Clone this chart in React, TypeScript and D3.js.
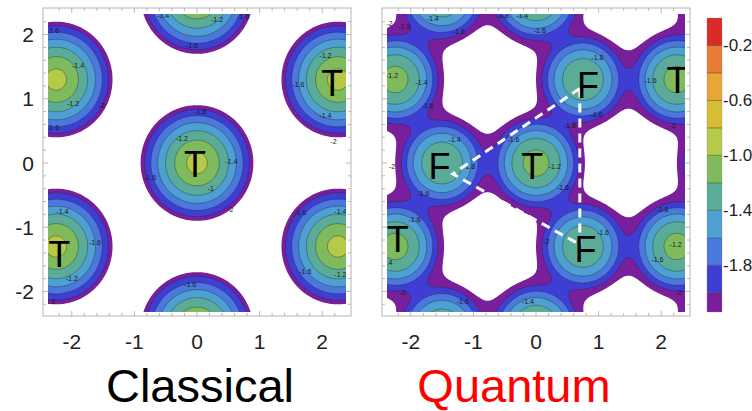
import React, { useMemo } from "react";
import * as d3 from "d3";

const WIDTH = 752;
const HEIGHT = 411;

// band edges of the filled contours and their colours (low -> high)
const levels = [-2.14, -2.0, -1.8, -1.6, -1.4, -1.2, -1.0, -0.8, -0.6, -0.4, -0.2, 0];
const bandColors = [
  "#7a1f9b", "#3e3ed4", "#4a78dd", "#4ea0d2", "#5aac98", "#7fba5c",
  "#b6c948", "#d5bd35", "#e9a636", "#e87b35", "#da2b27",
];
const colorbarTicks = [-0.2, -0.6, -1.0, -1.4, -1.8];
const axisTicks = [-2, -1, 0, 1, 2];
const minorTicks = d3.range(-22, 23, 2).map((v) => v / 10);

// lattice sites (data units)
const classicalSites: [number, number][] = [
  [0, 0], [0, 2.6], [0, -2.6], [2.25, 1.3], [2.25, -1.3], [-2.25, 1.3], [-2.25, -1.3],
];
const quantumTSites: [number, number][] = [
  [0, 0], [0, 2.6], [0, -2.6], [2.25, 1.3], [2.25, -1.3], [-2.25, 1.3], [-2.25, -1.3],
  [2.25, 3.9], [-2.25, 3.9], [2.25, -3.9], [-2.25, -3.9], [4.5, 0], [-4.5, 0],
];
const quantumFSites: [number, number][] = [
  [-1.5, 0], [0.75, 1.3], [0.75, -1.3], [-1.5, 2.6], [-1.5, -2.6], [3, 0],
  [0.75, 3.9], [0.75, -3.9], [3, 2.6], [3, -2.6], [-3.75, 1.3], [-3.75, -1.3],
];

// radial profiles read from the ring spacing
const classicalProfile = [-0.88, -0.573, -0.917]; // f = a0 + a1 r + a2 r^2
// quantum: [inner depth, inner curvature, outer depth, outer curvature]
const quantumTProfile = [-1.12, 1.89, -1.665, 0.79];
const quantumFProfile = [-1.2, 1.89, -1.705, 0.79];
const quantumBlend = 0.22;

// letters and labels
const classicalLetters = [
  { x: -0.03, y: -0.02, t: "T" },
  { x: 2.16, y: 1.24, t: "T" },
  { x: -2.2, y: -1.42, t: "T" },
];
const quantumLetters = [
  { x: -0.06, y: -0.06, t: "T" },
  { x: -1.54, y: -0.06, t: "F" },
  { x: 0.83, y: 1.2, t: "F" },
  { x: 0.79, y: -1.34, t: "F" },
  { x: 2.26, y: 1.28, t: "T" },
  { x: -2.21, y: -1.19, t: "T" },
];
const dashedChevron: [number, number][] = [[0.7, 1.16], [-1.33, -0.17], [0.7, -1.27]];
const dashedVertical: [number, number][] = [[0.7, 1.16], [0.7, -1.27]];

const classicalContourLabels: [number, number, string][] = [
  [-0.54, 2.3, "-1.4"], [0.32, 2.24, "-1.2"], [0.74, 2.28, "-1.6"], [-0.08, 1.83, "-1.6"],
  [-2.3, 2.06, "-1.6"], [-1.9, 1.52, "-1.4"], [-1.98, 0.92, "-1.2"], [-1.52, 0.9, "-2"],
  [-2.3, 0.56, "-1.6"], [2.05, 1.67, "-1.2"], [1.62, 1.23, "-1.6"], [2.05, 0.74, "-1.4"],
  [2.18, 0.34, "-2"], [0.05, 0.8, "-1.8"], [-0.24, 0.38, "-1.2"], [0.55, 0.02, "-1.4"],
  [-0.75, -0.22, "-1.6"], [0.22, -0.4, "-1"], [0.53, -0.72, "-2"], [-2.15, -0.75, "-1.4"],
  [-1.63, -1.24, "-1.6"], [-2.0, -1.8, "-1.2"], [-2.36, -2.16, "-1.6"], [1.65, -0.77, "-1.6"],
  [2.29, -0.75, "-1.4"], [1.73, -1.69, "-1.6"], [2.29, -1.73, "-1.2"], [-0.11, -1.89, "-1.6"],
];
const quantumContourLabels: [number, number, string][] = [
  [-1.65, 2.25, "-1.4"], [-0.53, 2.3, "-1.8"], [-0.22, 2.3, "-1.4"], [-1.23, 2.05, "-1.6"],
  [0.06, 2.06, "-1.6"], [-2.34, 2.17, "-2"], [-2.1, 2.12, "-1.8"], [-2.3, 1.36, "-1.2"],
  [-1.83, 1.26, "-1.4"], [-1.73, 0.9, "-1.6"], [0.98, 1.64, "-1.8"], [1.83, 1.28, "-1.6"],
  [0.97, 0.76, "-1.6"], [2.18, 0.58, "-2"], [0.54, 0.58, "-1.8"], [-0.36, 0.36, "-1.6"],
  [0.3, -0.05, "-1.2"], [0.43, -0.38, "-1.6"], [-1.3, 0.36, "-1.4"], [-1.07, -0.06, "-1.8"],
  [-1.8, -0.48, "-1.6"], [-2.3, -0.06, "-2"], [-1.94, -0.88, "-1.6"], [-2.39, -1.55, "-1.4"],
  [0.17, -1.22, "-2"], [1.07, -1.08, "-1.6"], [2.02, -0.72, "-1.8"], [2.23, -1.27, "-1.2"],
  [1.94, -1.5, "-1.6"], [-2.13, -2.02, "-2"], [-1.17, -2.16, "-1.6"], [-0.13, -2.16, "-1.4"],
  [2.28, -2.02, "-2"],
];

// sampling grid
const GX0 = -2.6;
const GY0 = 2.56;
const STEP = 0.02;
const NX = 261;
const NY = 257;

function sampleGrid(fn: (x: number, y: number) => number): number[] {
  const v: number[] = new Array(NX * NY);
  for (let j = 0; j < NY; j++) {
    const y = GY0 - j * STEP;
    for (let i = 0; i < NX; i++) {
      const x = GX0 + i * STEP;
      v[j * NX + i] = fn(x, y);
    }
  }
  return v;
}

function classicalField(x: number, y: number) {
  let best = -10;
  for (const [sx, sy] of classicalSites) {
    const r = Math.hypot(x - sx, y - sy);
    const f = classicalProfile[0] + classicalProfile[1] * r + classicalProfile[2] * r * r;
    if (f > best) best = f;
  }
  return best;
}

function siteValue(p: number[], r2: number) {
  return Math.max(p[0] - p[1] * r2, p[2] - p[3] * r2);
}

function quantumField(x: number, y: number) {
  const vals: number[] = [];
  for (const [sx, sy] of quantumTSites) {
    const r2 = (x - sx) ** 2 + (y - sy) ** 2;
    vals.push(siteValue(quantumTProfile, r2));
  }
  for (const [sx, sy] of quantumFSites) {
    const r2 = (x - sx) ** 2 + (y - sy) ** 2;
    vals.push(siteValue(quantumFProfile, r2));
  }
  const m = Math.max(...vals);
  let s = 0;
  for (const v of vals) s += Math.exp((v - m) / quantumBlend);
  return m + quantumBlend * Math.log(s);
}

type Box = { x0: number; x1: number; y0: number; y1: number };

function Panel(props: {
  id: string;
  frame: Box;
  plot: Box;
  field: (x: number, y: number) => number;
  letters: { x: number; y: number; t: string }[];
  labels: [number, number, string][];
  showY: boolean;
  dashed?: boolean;
}) {
  const { id, frame, plot, field, letters, labels, showY, dashed } = props;
  const sx = d3.scaleLinear().domain([-2.38, 2.38]).range([plot.x0, plot.x1]);
  const sy = d3.scaleLinear().domain([-2.32, 2.32]).range([plot.y1, plot.y0]);

  const paths = useMemo(() => {
    const values = sampleGrid(field);
    const cs = d3.contours().size([NX, NY]).thresholds(levels.slice(0, -1))(values);
    return cs.map((c) => {
      let s = "";
      for (const poly of c.coordinates) {
        for (const ring of poly) {
          ring.forEach((p, i) => {
            const dx = GX0 + (p[0] - 0.5) * STEP;
            const dy = GY0 - (p[1] - 0.5) * STEP;
            s += (i ? "L" : "M") + sx(dx).toFixed(2) + "," + sy(dy).toFixed(2);
          });
          s += "Z";
        }
      }
      return { value: c.value, d: s };
    });
  }, [id]);

  const line = d3.line<[number, number]>().x((d) => sx(d[0])).y((d) => sy(d[1]));

  return (
    <g>
      <defs>
        <clipPath id={id}>
          <rect x={plot.x0} y={plot.y0} width={plot.x1 - plot.x0} height={plot.y1 - plot.y0} />
        </clipPath>
      </defs>
      <g clipPath={`url(#${id})`}>
        {paths.map((p, i) => (
          <path key={"f" + i} d={p.d} fill={bandColors[i]} fillRule="evenodd" stroke="none" />
        ))}
        {paths.map((p, i) =>
          i === 0 ? null : (
            <path key={"l" + i} d={p.d} fill="none" stroke="#1e2a26" strokeOpacity={0.55} strokeWidth={0.7} />
          )
        )}
        {labels.map(([x, y, t], i) => (
          <text key={"c" + i} x={sx(x)} y={sy(y)} fontSize={7} fill="#1a1a1a" textAnchor="middle" dominantBaseline="central" fontFamily="Liberation Sans, Arial, sans-serif">
            {t}
          </text>
        ))}
        {dashed && (
          <g fill="none" stroke="#ffffff" strokeWidth={3} strokeDasharray="9,6">
            <path d={line(dashedChevron) || ""} />
            <path d={line(dashedVertical) || ""} />
          </g>
        )}
        {letters.map((l, i) => (
          <text key={"t" + i} x={sx(l.x)} y={sy(l.y)} fontSize={36} fill="#000" textAnchor="middle" dominantBaseline="central" fontFamily="Liberation Sans, Arial, sans-serif">
            {l.t}
          </text>
        ))}
      </g>
      <rect x={frame.x0} y={frame.y0} width={frame.x1 - frame.x0} height={frame.y1 - frame.y0} fill="none" stroke="#b4b4b4" strokeWidth={1} />
      <g stroke="#a8a8a8" strokeWidth={0.8}>
        {minorTicks.map((v, i) => {
          const major = Math.abs(v - Math.round(v)) < 1e-6;
          const len = major ? 5 : 3;
          return (
            <g key={"tk" + i}>
              <line x1={sx(v)} x2={sx(v)} y1={frame.y1} y2={frame.y1 - len} />
              <line x1={sx(v)} x2={sx(v)} y1={frame.y0} y2={frame.y0 + len} />
              <line x1={frame.x0} x2={frame.x0 + len} y1={sy(v)} y2={sy(v)} />
              <line x1={frame.x1} x2={frame.x1 - len} y1={sy(v)} y2={sy(v)} />
            </g>
          );
        })}
      </g>
      {axisTicks.map((v) => (
        <text key={"x" + v} x={sx(v)} y={341} fontSize={21} fill="#222" textAnchor="middle" dominantBaseline="central" fontFamily="Liberation Sans, Arial, sans-serif">
          {String(v)}
        </text>
      ))}
      {showY &&
        axisTicks.map((v) => (
          <text key={"y" + v} x={34} y={sy(v)} fontSize={21} fill="#222" textAnchor="end" dominantBaseline="central" fontFamily="Liberation Sans, Arial, sans-serif">
            {String(v)}
          </text>
        ))}
    </g>
  );
}

function Colorbar() {
  const cy = d3.scaleLinear().domain([0, -2.14]).range([18, 312]);
  const x0 = 707;
  const w = 15;
  return (
    <g>
      {bandColors.map((c, i) => (
        <rect key={i} x={x0} y={cy(levels[i + 1])} width={w} height={cy(levels[i]) - cy(levels[i + 1])} fill={c} />
      ))}
      {levels.slice(1, -1).map((v, i) => (
        <line key={"b" + i} x1={x0} x2={x0 + w} y1={cy(v)} y2={cy(v)} stroke="#2a2a2a" strokeOpacity={0.45} strokeWidth={1} />
      ))}
      <rect x={x0} y={18} width={w} height={294} fill="none" stroke="#888" strokeOpacity={0.5} strokeWidth={0.6} />
      {colorbarTicks.map((v) => (
        <text key={"cb" + v} x={723} y={cy(v)} fontSize={17} fill="#222" dominantBaseline="central" fontFamily="Liberation Sans, Arial, sans-serif">
          {v.toFixed(1)}
        </text>
      ))}
    </g>
  );
}

export default function App() {
  return (
    <svg
      width={WIDTH}
      height={HEIGHT}
      viewBox={`0 0 ${WIDTH} ${HEIGHT}`}
      style={{ position: "absolute", left: 0, top: 0, background: "#fff", display: "block" }}
    >
      <rect x={0} y={0} width={WIDTH} height={HEIGHT} fill="#fff" />
      <Panel
        id="clipClassical"
        frame={{ x0: 43, x1: 351, y0: 8, y1: 316 }}
        plot={{ x0: 48, x1: 346, y0: 14, y1: 312 }}
        field={classicalField}
        letters={classicalLetters}
        labels={classicalContourLabels}
        showY={true}
      />
      <Panel
        id="clipQuantum"
        frame={{ x0: 382, x1: 690, y0: 8, y1: 316 }}
        plot={{ x0: 387, x1: 685, y0: 14, y1: 312 }}
        field={quantumField}
        letters={quantumLetters}
        labels={quantumContourLabels}
        showY={false}
        dashed={true}
      />
      <Colorbar />
      <text x={200} y={402} fontSize={47} fill="#000" textAnchor="middle" fontFamily="Liberation Sans, Arial, sans-serif">
        Classical
      </text>
      <text x={514} y={402} fontSize={47} fill="#ff0000" textAnchor="middle" fontFamily="Liberation Sans, Arial, sans-serif">
        Quantum
      </text>
    </svg>
  );
}
